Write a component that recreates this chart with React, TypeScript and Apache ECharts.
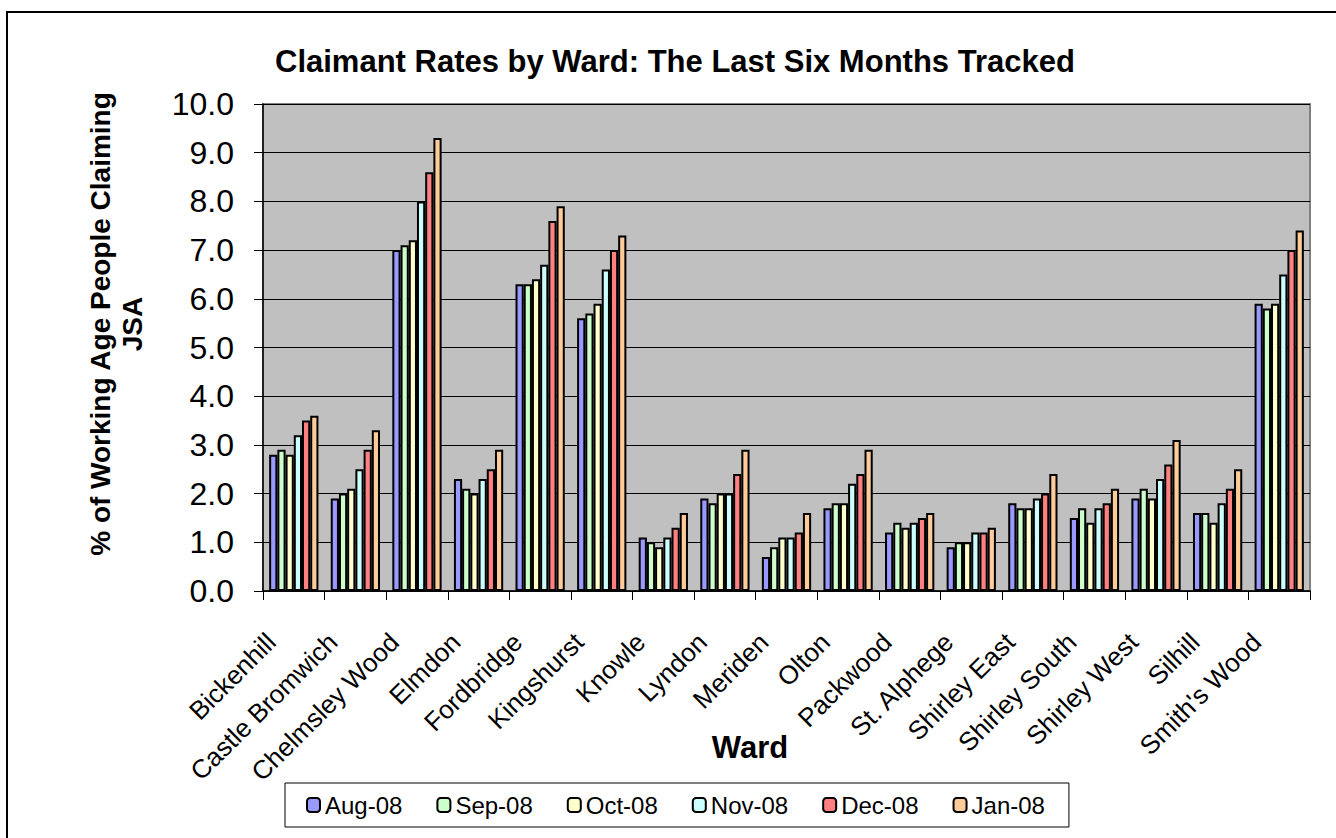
import React, { useEffect, useRef } from "react";
import * as echarts from "echarts";

const wards = [
  "Bickenhill", "Castle Bromwich", "Chelmsley Wood", "Elmdon", "Fordbridge",
  "Kingshurst", "Knowle", "Lyndon", "Meriden", "Olton", "Packwood",
  "St. Alphege", "Shirley East", "Shirley South", "Shirley West", "Silhill",
  "Smith's Wood",
];

const aug08 = [2.8, 1.9, 7.0, 2.3, 6.3, 5.6, 1.1, 1.9, 0.7, 1.7, 1.2, 0.9, 1.8, 1.5, 1.9, 1.6, 5.9];
const sep08 = [2.9, 2.0, 7.1, 2.1, 6.3, 5.7, 1.0, 1.8, 0.9, 1.8, 1.4, 1.0, 1.7, 1.7, 2.1, 1.6, 5.8];
const oct08 = [2.8, 2.1, 7.2, 2.0, 6.4, 5.9, 0.9, 2.0, 1.1, 1.8, 1.3, 1.0, 1.7, 1.4, 1.9, 1.4, 5.9];
const nov08 = [3.2, 2.5, 8.0, 2.3, 6.7, 6.6, 1.1, 2.0, 1.1, 2.2, 1.4, 1.2, 1.9, 1.7, 2.3, 1.8, 6.5];
const dec08 = [3.5, 2.9, 8.6, 2.5, 7.6, 7.0, 1.3, 2.4, 1.2, 2.4, 1.5, 1.2, 2.0, 1.8, 2.6, 2.1, 7.0];
const jan08 = [3.6, 3.3, 9.3, 2.9, 7.9, 7.3, 1.6, 2.9, 1.6, 2.9, 1.6, 1.3, 2.4, 2.1, 3.1, 2.5, 7.4];

const seriesNames = ["Aug-08", "Sep-08", "Oct-08", "Nov-08", "Dec-08", "Jan-08"];
const seriesData = [aug08, sep08, oct08, nov08, dec08, jan08];
const seriesColors = ["#9999FF", "#CCFFCC", "#FFFFCC", "#CCFFFF", "#FF8080", "#FFCC99"];

const FONT = "Arial, 'Liberation Sans', sans-serif";

export default function App() {
  const ref = useRef<HTMLDivElement>(null);
  useEffect(() => {
    if (!ref.current) return;
    const chart = echarts.init(ref.current, undefined, { renderer: "svg" });
    chart.setOption({
      animation: false,
      backgroundColor: "#ffffff",
      textStyle: { fontFamily: FONT },
      title: {
        text: "Claimant Rates by Ward: The Last Six Months Tracked",
        left: 270,
        top: 41,
        textStyle: { fontSize: 31, fontWeight: "bold", color: "#000", fontFamily: FONT },
      },
      legend: {
        data: seriesNames,
        left: 285,
        top: 783,
        padding: [10, 24, 10, 21],
        itemWidth: 13,
        itemHeight: 14,
        itemGap: 34,
        borderColor: "#000",
        borderWidth: 1,
        textStyle: { fontSize: 24, color: "#000", fontFamily: FONT },
      },
      grid: {
        left: 263,
        top: 104,
        right: 26,
        bottom: 247,
        show: true,
        backgroundColor: "#C0C0C0",
        borderColor: "#808080",
        borderWidth: 2,
      },
      xAxis: {
        type: "category",
        data: wards,
        axisLine: { show: true, lineStyle: { color: "#000", width: 1.5 } },
        axisTick: { show: true, length: 9, lineStyle: { color: "#000" } },
        axisLabel: {
          interval: 0,
          rotate: 45,
          margin: 24,
          padding: [0, 32, 0, 0],
          fontSize: 26,
          color: "#000",
          fontFamily: FONT,
        },
      },
      yAxis: {
        type: "value",
        min: 0,
        max: 10,
        interval: 1,
        axisLine: { show: true, lineStyle: { color: "#000", width: 1.5 } },
        axisTick: { show: true, length: 9, lineStyle: { color: "#000" } },
        splitLine: { show: true, lineStyle: { color: "#000", width: 1 } },
        axisLabel: {
          margin: 29,
          fontSize: 32,
          color: "#000",
          fontFamily: FONT,
          formatter: (v: number) => v.toFixed(1),
        },
      },
      graphic: [
        {
          type: "rect",
          shape: { x: 7, y: 12, width: 1400, height: 900 },
          style: { fill: "none", stroke: "#000", lineWidth: 2 },
          z: -1,
        },
        {
          type: "text",
          x: 116,
          y: 324,
          rotation: Math.PI / 2,
          style: {
            text: "% of Working Age People Claiming\nJSA",
            fontSize: 28,
            fontWeight: "bold",
            fontFamily: FONT,
            fill: "#000",
            align: "center",
            verticalAlign: "middle",
            lineHeight: 32,
          },
        },
        {
          type: "text",
          x: 750,
          y: 747,
          style: {
            text: "Ward",
            fontSize: 31,
            fontWeight: "bold",
            fontFamily: FONT,
            fill: "#000",
            align: "center",
            verticalAlign: "middle",
          },
        },
      ],
      series: seriesNames.map((name, i) => ({
        name,
        type: "bar",
        data: seriesData[i],
        barGap: "0%",
        barCategoryGap: "20%",
        itemStyle: {
          color: seriesColors[i],
          borderColor: "#000",
          borderWidth: 2,
        },
      })),
    });
    return () => chart.dispose();
  }, []);
  return (
    <div
      ref={ref}
      style={{ position: "absolute", left: 0, top: 0, width: 1336, height: 838 }}
    />
  );
}
